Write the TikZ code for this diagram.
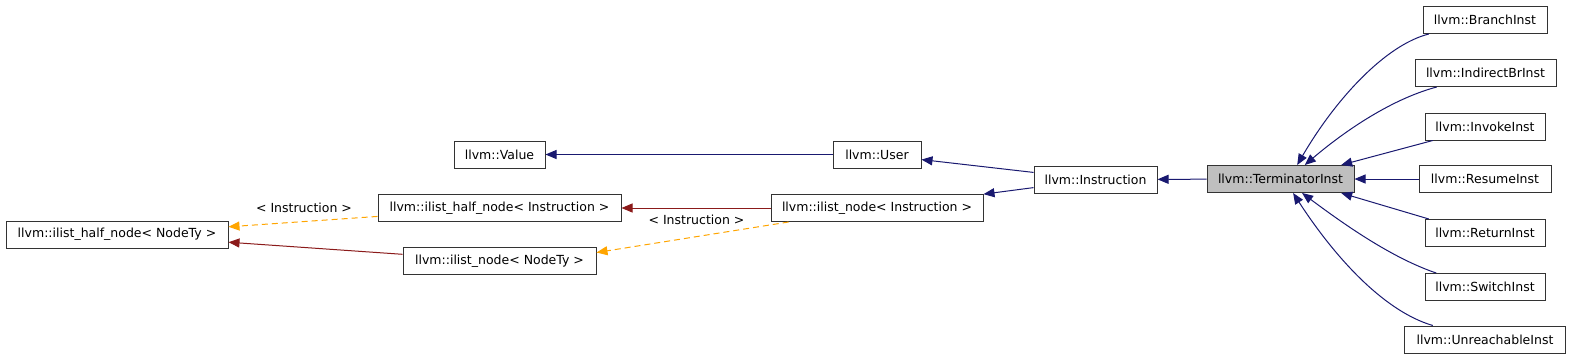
\documentclass[tikz,border=0pt]{standalone}
\usepackage{fontspec}
\setmainfont{DejaVu Sans}
\usetikzlibrary{arrows.meta,positioning,calc}
\definecolor{navy}{HTML}{191970}
\definecolor{darkred}{HTML}{8B1A1A}
\definecolor{tmplorange}{HTML}{FFA500}
\definecolor{curgray}{HTML}{BFBFBF}
\tikzset{cls/.style={draw=black!80,line width=1pt,minimum height=27pt,inner sep=0pt,font=\fontsize{12.5}{14}\selectfont},
  pub/.style={navy,line width=1pt,-{Triangle[length=11pt,width=9pt]}},
  prot/.style={darkred,line width=1pt,-{Triangle[length=11pt,width=9pt]}},
  tmpl/.style={tmplorange,line width=1pt,dash pattern=on 6pt off 4pt,-{Triangle[length=11pt,width=9pt]}},
  tlabel/.style={font=\fontsize{12.5}{14}\selectfont,inner sep=0pt}}

\begin{document}
\begin{tikzpicture}[x=1pt,y=-1pt]
\useasboundingbox (0,0) rectangle (1571,360);
% base classes
\node[cls,minimum width=222pt] (halfty) at (117,234.5){llvm::ilist\_half\_node< NodeTy >};
\node[cls,minimum width=91pt] (value) at (499.5,154.5){llvm::Value};
\node[cls,minimum width=243pt] (halfins) at (499.5,208){llvm::ilist\_half\_node< Instruction >};
\node[cls,minimum width=193pt] (nodety) at (499.5,261){llvm::ilist\_node< NodeTy >};
\node[cls,minimum width=88pt] (user) at (877,154.5){llvm::User};
\node[cls,minimum width=212pt] (nodeins) at (877,208){llvm::ilist\_node< Instruction >};
\node[cls,minimum width=123pt] (instr) at (1095.5,179.5){llvm::Instruction};
\node[cls,fill=curgray,minimum width=147pt] (term) at (1280.5,179){llvm::TerminatorInst};
% subclasses
\node[cls,minimum width=124pt] (branch) at (1485,20){llvm::BranchInst};
\node[cls,minimum width=141pt] (ibr) at (1485.5,73){llvm::IndirectBrInst};
\node[cls,minimum width=120pt] (inv) at (1485,126.5){llvm::InvokeInst};
\node[cls,minimum width=132pt] (res) at (1485,179){llvm::ResumeInst};
\node[cls,minimum width=120pt] (ret) at (1485,233){llvm::ReturnInst};
\node[cls,minimum width=120pt] (sw) at (1485,287){llvm::SwitchInst};
\node[cls,minimum width=161pt] (unr) at (1485,339.5){llvm::UnreachableInst};
\node[tlabel] (lblhalf) at (304,208){< Instruction >};
\node[tlabel] (lblnode) at (696.5,220){< Instruction >};

\draw[pub] (user)--(value);
\draw[pub] (instr)--(user);\draw[pub] (instr)--(nodeins);
\draw[pub] (term)--(instr);
\draw[prot] (nodeins)--(halfins);\draw[prot] (nodety)--(halfty);
\draw[tmpl] (halfins)--(halfty);\draw[tmpl] (nodeins.189)--(nodety.5);
\draw[pub] (branch.194) .. controls (1385,45) and (1335,100) .. (term.40);
\draw[pub] (ibr.196) .. controls (1388,100) and (1340,135) .. (term.30);
\draw[pub] (inv.195)--(term.13);
\draw[pub] (res)--(term);
\draw[pub] (ret.166)--(term.-13);
\draw[pub] (sw.164) .. controls (1392,258) and (1345,225) .. (term.-33);
\draw[pub] (unr.165) .. controls (1380,310) and (1330,250) .. (term.-48);
\end{tikzpicture}
\end{document}
